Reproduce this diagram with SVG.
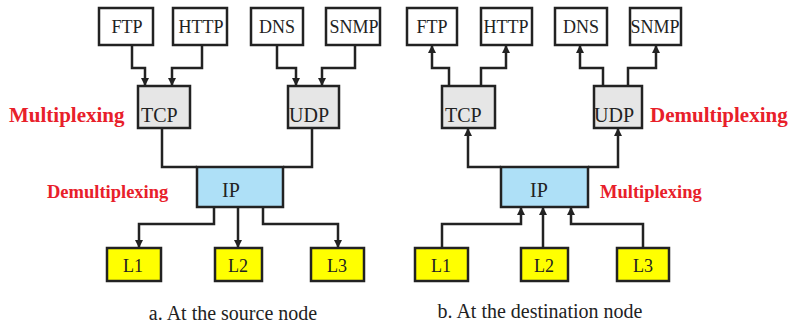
<svg xmlns="http://www.w3.org/2000/svg" width="797" height="328" viewBox="0 0 797 328">
<style>
.box{fill:#fff;stroke:#222;stroke-width:2.5}
.tr{fill:#e6e6e6;stroke:#222;stroke-width:2.5}
.ip{fill:#aee0f7;stroke:#222;stroke-width:2.5}
.l{fill:#ffff00;stroke:#222;stroke-width:2.5}
.t{font-family:"Liberation Serif",serif;font-size:18px;fill:#222;text-anchor:middle}
.tb{font-family:"Liberation Serif",serif;font-size:20px;fill:#222}
.red1{font-family:"Liberation Serif",serif;font-size:21px;font-weight:bold;fill:#e8202a}
.red2{font-family:"Liberation Serif",serif;font-size:18.5px;font-weight:bold;fill:#e8202a}
.cap{font-family:"Liberation Serif",serif;font-size:20px;fill:#222;text-anchor:middle}
.c{fill:none;stroke:#222;stroke-width:2.5}
.a{marker-end:url(#ah)}
</style>
<defs>
<marker id="ah" viewBox="0 0 10 10" refX="10" refY="5" markerWidth="3.2" markerHeight="3.2" orient="auto" markerUnits="strokeWidth">
<path d="M0,0 L10,5 L0,10 z" fill="#222"/>
</marker>
</defs>

<g id="connectors">
<path class="c a" d="M132,45 V68 H145 V86"/>
<path class="c a" d="M202,45 V68 H172 V86"/>
<path class="c a" d="M277,45 V68 H296 V86"/>
<path class="c a" d="M355,45 V68 H322 V86"/>
<path class="c" d="M162,128 V167 H197"/>
<path class="c" d="M312,128 V167 H283"/>
<path class="c a" d="M214,207 V224 H139 V248"/>
<path class="c a" d="M238,207 V248"/>
<path class="c a" d="M263,207 V224 H338 V248"/>

<path class="c a" d="M449,86 V68 H432 V45"/>
<path class="c a" d="M481,86 V68 H506 V45"/>
<path class="c a" d="M603,86 V68 H580 V45"/>
<path class="c a" d="M628,86 V68 H656 V45"/>
<path class="c a" d="M501,167 H468 V128"/>
<path class="c a" d="M588,167 H618 V128"/>
<path class="c a" d="M442,248 V224 H521 V207"/>
<path class="c a" d="M543,248 V207"/>
<path class="c a" d="M643,248 V224 H571 V207"/>
</g>

<g id="a-ftp"><rect class="box" x="99" y="8" width="54" height="37"/><text class="t" x="127" y="33">FTP</text></g>
<g id="a-http"><rect class="box" x="173" y="8" width="54" height="37"/><text class="t" x="201" y="33">HTTP</text></g>
<g id="a-dns"><rect class="box" x="251" y="8" width="52" height="37"/><text class="t" x="277" y="33">DNS</text></g>
<g id="a-snmp"><rect class="box" x="326" y="8" width="54" height="37"/><text class="t" x="354" y="33">SNMP</text></g>
<g id="a-tcp"><rect class="tr" x="138" y="86" width="52" height="42"/><text class="tb" x="141" y="122">TCP</text></g>
<g id="a-udp"><rect class="tr" x="288" y="86" width="51" height="42"/><text class="tb" x="289" y="122">UDP</text></g>
<g id="a-ip"><rect class="ip" x="197" y="167" width="86" height="40"/><text class="tb" x="222" y="197">IP</text></g>
<g id="a-l1"><rect class="l" x="107" y="248" width="54" height="33"/><text class="t" x="133" y="272">L1</text></g>
<g id="a-l2"><rect class="l" x="215" y="248" width="47" height="33"/><text class="t" x="238" y="272">L2</text></g>
<g id="a-l3"><rect class="l" x="311" y="248" width="53" height="33"/><text class="t" x="337" y="272">L3</text></g>
<text class="red1" x="9" y="122">Multiplexing</text>
<text class="red2" x="47" y="198">Demultiplexing</text>
<text class="cap" x="233" y="320">a. At the source node</text>

<g id="b-ftp"><rect class="box" x="407" y="8" width="50" height="37"/><text class="t" x="432" y="33">FTP</text></g>
<g id="b-http"><rect class="box" x="481" y="8" width="51" height="37"/><text class="t" x="506" y="33">HTTP</text></g>
<g id="b-dns"><rect class="box" x="555" y="8" width="52" height="37"/><text class="t" x="581" y="33">DNS</text></g>
<g id="b-snmp"><rect class="box" x="630" y="8" width="51" height="37"/><text class="t" x="655" y="33">SNMP</text></g>
<g id="b-tcp"><rect class="tr" x="442" y="86" width="53" height="42"/><text class="tb" x="445" y="122">TCP</text></g>
<g id="b-udp"><rect class="tr" x="594" y="86" width="48" height="42"/><text class="tb" x="594" y="122">UDP</text></g>
<g id="b-ip"><rect class="ip" x="501" y="167" width="87" height="40"/><text class="tb" x="530" y="197">IP</text></g>
<g id="b-l1"><rect class="l" x="415" y="248" width="53" height="33"/><text class="t" x="441" y="272">L1</text></g>
<g id="b-l2"><rect class="l" x="521" y="248" width="47" height="33"/><text class="t" x="544" y="272">L2</text></g>
<g id="b-l3"><rect class="l" x="617" y="248" width="52" height="33"/><text class="t" x="643" y="272">L3</text></g>
<text class="red1" x="650" y="122">Demultiplexing</text>
<text class="red2" x="600" y="198">Multiplexing</text>
<text class="cap" x="540" y="318">b. At the destination node</text>
</svg>
